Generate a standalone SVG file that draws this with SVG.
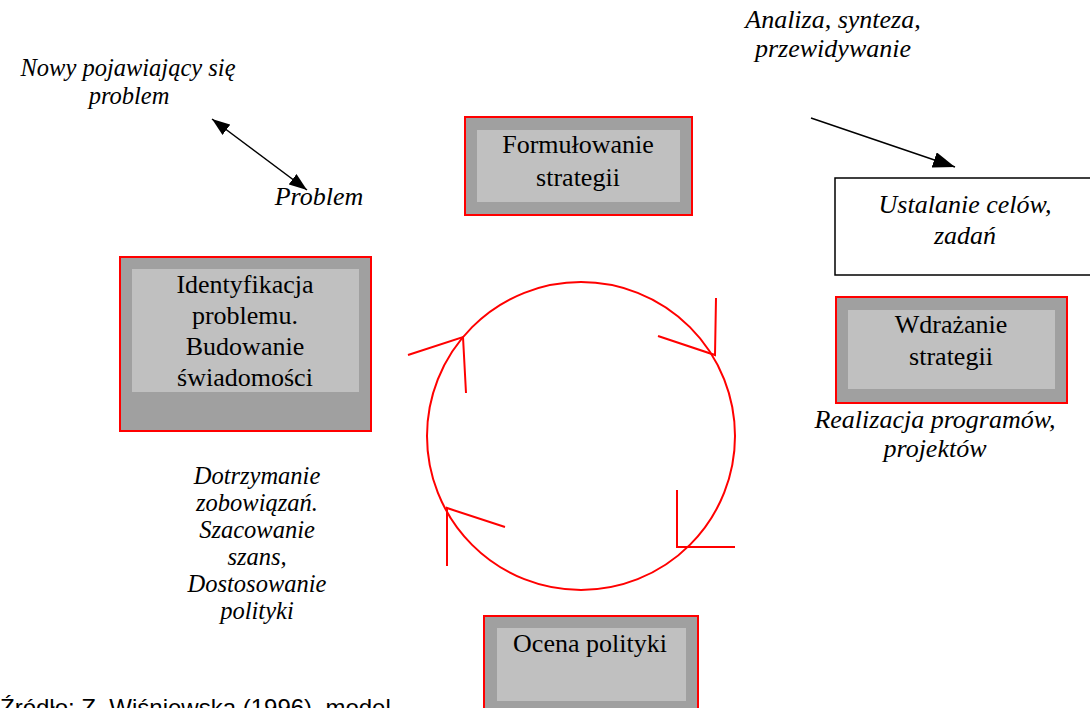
<svg xmlns="http://www.w3.org/2000/svg" width="1090" height="708" viewBox="0 0 1090 708">
<defs>
<style>
.box{fill:#a0a0a0;stroke:#ff0000;stroke-width:2}
.inner{fill:#c0c0c0}
.t{font-family:"Liberation Serif","Times New Roman",serif;font-size:26px;fill:#000;text-anchor:middle}
.i{font-family:"Liberation Serif","Times New Roman",serif;font-size:26px;font-style:italic;fill:#000;text-anchor:middle}
.s{font-size:24.5px}
.red{stroke:#ff0000;stroke-width:2;fill:none}
.blk{stroke:#000;stroke-width:1.5;fill:none}
</style>
<marker id="ahBig" viewBox="0 0 10 10" refX="10" refY="5" markerWidth="22" markerHeight="16" markerUnits="userSpaceOnUse" orient="auto" preserveAspectRatio="none">
<path d="M0,0 L10,5 L0,10 z" fill="#000"/>
</marker>
<marker id="ahMid" viewBox="0 0 10 10" refX="10" refY="5" markerWidth="18" markerHeight="13" markerUnits="userSpaceOnUse" orient="auto-start-reverse" preserveAspectRatio="none">
<path d="M0,0 L10,5 L0,10 z" fill="#000"/>
</marker>
</defs>
<rect width="1090" height="708" fill="#fff"/>

<text x="0" y="716" font-family="'Liberation Sans',Arial,sans-serif" font-size="24" fill="#000">Źródło: Z. Wiśniewska (1996), model</text>

<g id="connectors">
<circle cx="581" cy="436" r="154" class="red"/>
<polyline class="red" points="408,355 463,337 466,393"/>
<polyline class="red" points="658,336 715,355 716,298"/>
<polyline class="red" points="677,490 677,547 735,547"/>
<polyline class="red" points="505,527 447,508 447,566"/>
<line class="blk" x1="811" y1="118" x2="955" y2="167" marker-end="url(#ahBig)"/>
<line class="blk" x1="212" y1="119" x2="307" y2="190" marker-start="url(#ahMid)" marker-end="url(#ahMid)"/>
</g>

<g id="formulowanie">
<rect class="box" x="465" y="117" width="227" height="98"/>
<rect class="inner" x="477" y="130" width="203" height="72"/>
<text class="t" x="578" y="153">Formułowanie</text>
<text class="t" x="578" y="186">strategii</text>
</g>

<g id="identyfikacja">
<rect class="box" x="120" y="257" width="251" height="174"/>
<rect class="inner" x="132" y="269" width="227" height="123"/>
<text class="t" x="245" y="293">Identyfikacja</text>
<text class="t" x="245" y="324">problemu.</text>
<text class="t" x="245" y="355">Budowanie</text>
<text class="t" x="245" y="386">świadomości</text>
</g>

<g id="ustalanie">
<rect x="835" y="178" width="262" height="97" fill="#fff" stroke="#000" stroke-width="1.5"/>
<text class="i" x="965" y="213">Ustalanie celów,</text>
<text class="i" x="965" y="244">zadań</text>
</g>

<g id="wdrazanie">
<rect class="box" x="836" y="297" width="231" height="106"/>
<rect class="inner" x="848" y="310" width="207" height="79"/>
<text class="t" x="951" y="333">Wdrażanie</text>
<text class="t" x="951" y="365">strategii</text>
</g>

<g id="ocena">
<rect class="box" x="484" y="616" width="214" height="110"/>
<rect class="inner" x="497" y="628" width="189" height="73"/>
<text class="t" x="590" y="652">Ocena polityki</text>
</g>

<g id="labels">
<text class="i" x="833" y="28">Analiza, synteza,</text>
<text class="i" x="833" y="57">przewidywanie</text>
<text class="i s" x="128" y="76">Nowy pojawiający się</text>
<text class="i s" x="129" y="104">problem</text>
<text class="i" x="319" y="205">Problem</text>
<text class="i" x="935" y="428">Realizacja programów,</text>
<text class="i" x="935" y="457">projektów</text>
<text class="i s" x="257" y="484">Dotrzymanie</text>
<text class="i s" x="257" y="511">zobowiązań.</text>
<text class="i s" x="257" y="538">Szacowanie</text>
<text class="i s" x="257" y="565">szans,</text>
<text class="i s" x="257" y="592">Dostosowanie</text>
<text class="i s" x="257" y="619">polityki</text>
</g>
</svg>
